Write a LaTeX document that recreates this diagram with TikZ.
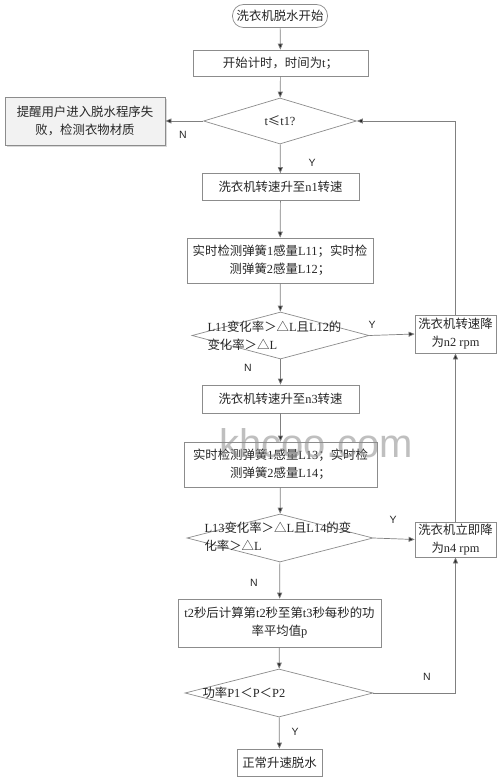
\documentclass[tikz,border=0pt]{standalone}
\usepackage{fontspec}
\setmainfont{Liberation Serif}
\newfontfamily\cjk{Noto Sans CJK SC}
\newfontfamily\lsans{Liberation Sans}
\usetikzlibrary{arrows.meta,shapes.geometric}
\newcommand\zh[1]{{\cjk #1}}
\begin{document}
\begin{tikzpicture}[x=1pt,y=-1pt,
  every node/.style={font=\fontsize{12.4}{18}\selectfont, text=black!85},
  box/.style={draw=black!45, line width=0.7pt, fill=white, inner sep=0pt, align=center},
  term/.style={box, rounded corners=11pt},
  dia/.style={draw=black!45, line width=0.7pt, diamond, inner sep=0pt, aspect=3},
  lbl/.style={font=\lsans\fontsize{10.5}{12}\selectfont, text=black!85},
  conn/.style={draw=black!50, line width=0.7pt, -{Triangle[width=5pt,length=6pt,fill=black!85]}}
]
\useasboundingbox (0,0) rectangle (500,781);
\fill[white] (0,0) rectangle (500,781);

\node[term, minimum width=95, minimum height=23] (start) at (280,16) {\zh{洗衣机脱水开始}};
\node[box, minimum width=175, minimum height=26] (b1) at (280.5,63) {\zh{开始计时，时间为}t\zh{；}};
\node[dia, minimum width=153, minimum height=46] (d1) at (280,121) {};
\node (d1t) at (280,121) {t\zh{≤}t1?};
\fill[black!15] (7,99) rectangle (167,147);
\node[box, fill=black!5, minimum width=160, minimum height=48] (fail) at (85,121) {\zh{提醒用户进入脱水程序失}\\\zh{败，检测衣物材质}};
\node[box, minimum width=157, minimum height=27] (b2) at (280.5,187) {\zh{洗衣机转速升至}n1\zh{转速}};
\node[box, minimum width=186, minimum height=45] (b3) at (280,260.5) {\zh{实时检测弹簧}1\zh{感量}L11\zh{；实时检}\\\zh{测弹簧}2\zh{感量}L12\zh{；}};
\node[dia, minimum width=177, minimum height=47] (d2) at (280.5,335.5) {};
\node[anchor=west, align=left] (d2t) at (204,336) {L11\zh{变化率＞△}L\zh{且}L12\zh{的}\\\zh{变化率＞△}L};
\node[box, minimum width=81, minimum height=38] (n2) at (455.5,334) {\zh{洗衣机转速降}\\\zh{为}n2 rpm};
\node[box, minimum width=157, minimum height=28] (b4) at (280.5,399) {\zh{洗衣机转速升至}n3\zh{转速}};
\node[box, minimum width=193, minimum height=45] (b5) at (280.5,464.5) {\zh{实时检测弹簧}1\zh{感量}L13\zh{；实时检}\\\zh{测弹簧}2\zh{感量}L14\zh{；}};
\node[dia, minimum width=186, minimum height=48] (d3) at (280,538) {};
\node[anchor=west, align=left] (d3t) at (201,537) {L13\zh{变化率＞△}L\zh{且}L14\zh{的变}\\\zh{化率＞△}L};
\node[box, minimum width=81, minimum height=35] (n4) at (455.5,539.5) {\zh{洗衣机立即降}\\\zh{为}n4 rpm};
\node[box, minimum width=203, minimum height=48] (b6) at (279.5,623) {t2\zh{秒后计算第}t2\zh{秒至第}t3\zh{秒每秒的功}\\\zh{率平均值}p};
\node[dia, minimum width=188, minimum height=48] (d4) at (279,693) {};
\node[anchor=west] (d4t) at (199,693) {\zh{功率}P1\zh{＜}P\zh{＜}P2};
\node[box, minimum width=85, minimum height=27] (end) at (279.5,762.5) {\zh{正常升速脱水}};

\draw[conn] (start) -- (b1);
\draw[conn] (b1) -- (d1);
\draw[conn] (d1) -- (b2);
\draw[conn] (b2) -- (b3);
\draw[conn] (b3) -- (d2);
\draw[conn] (d2) -- (b4);
\draw[conn] (b4) -- (b5);
\draw[conn] (b5) -- (d3);
\draw[conn] (d3) -- (b6);
\draw[conn] (b6) -- (d4);
\draw[conn] (d4) -- (end);
\draw[conn] (d1.west) -- (fail.east);
\draw[conn] (d2.east) -- (n2.west);
\draw[conn] (d3.east) -- (n4.west);
\draw[conn] (d4.east) -| (n4.south);
\draw[conn] (n4.north) -- (n2.south);
\draw[conn] (n2.north) |- (d1.east);

\node[lbl] (lN1) at (183,135) {N};
\node[lbl] (lY1) at (312,163) {Y};
\node[lbl] (lY2) at (372,325) {Y};
\node[lbl] (lN2) at (248,368) {N};
\node[lbl] (lY3) at (393,520) {Y};
\node[lbl] (lN3) at (254,583) {N};
\node[lbl] (lN4) at (427,677) {N};
\node[lbl] (lY4) at (295,732) {Y};

% watermark, lying over the drawing as in the reference
\node[font=\lsans\fontsize{40}{40}\selectfont, text=black!45, opacity=0.55] (wm) at (316,443) {khcoo.com};
\end{tikzpicture}
\end{document}
